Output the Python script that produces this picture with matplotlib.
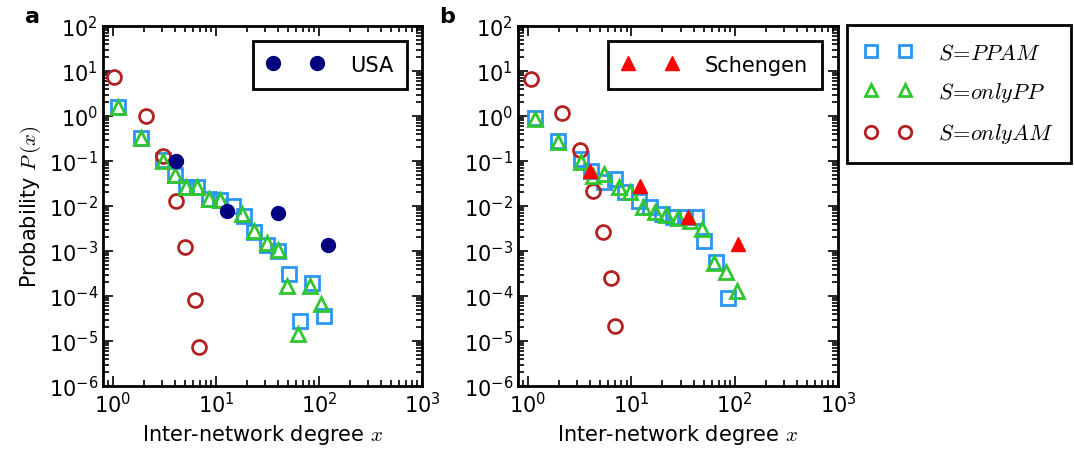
import matplotlib.pyplot as plt
from matplotlib.lines import Line2D

plt.rcParams['mathtext.fontset'] = 'cm'
plt.rcParams['font.family'] = ['DejaVu Sans']

# panel a (USA)
a_ppam_x = [1.13, 1.88, 3.08, 4.0, 5.07, 6.6, 8.55, 10.9, 14.6, 18.7, 23.4, 31, 39.6, 51, 66, 86, 112]
a_ppam_y = [1.56, 0.32, 0.105, 0.050, 0.026, 0.027, 0.0143, 0.0139, 0.0102, 0.0059, 0.0027,
            0.00138, 0.00102, 3.1e-4, 2.8e-5, 1.95e-4, 3.6e-5]
a_pp_x = [1.13, 1.88, 3.08, 4.0, 5.07, 6.6, 8.55, 10.9, 17.7, 23.4, 31, 39.6, 48.6, 63, 81, 104]
a_pp_y = [1.56, 0.32, 0.10, 0.050, 0.026, 0.027, 0.0143, 0.0139, 0.0066, 0.0028, 0.0015,
          0.00105, 1.7e-4, 1.4e-5, 1.7e-4, 6.6e-5]
a_am_x = [1.02, 2.08, 3.08, 4.12, 5.0, 6.2, 6.8]
a_am_y = [7.2, 1.0, 0.127, 0.013, 1.2e-3, 8.1e-5, 7.5e-6]
usa_x = [4.06, 12.8, 39.6, 123]
usa_y = [0.102, 0.0079, 0.007, 0.00138]

# panel b (Schengen)
b_ppam_x = [1.18, 1.96, 3.23, 4.1, 5.4, 7.0, 8.75, 11.8, 15.2, 19.7, 25.5, 33, 42.6, 51, 66, 86]
b_ppam_y = [0.89, 0.28, 0.11, 0.061, 0.034, 0.040, 0.020, 0.013, 0.0094, 0.0066, 0.0056,
            0.0056, 0.0056, 0.0017, 5.6e-4, 8.9e-5]
b_pp_x = [1.18, 1.96, 3.23, 4.25, 5.4, 7.55, 9.8, 12.9, 17, 21.8, 28.5, 36.9, 48, 63, 82, 105]
b_pp_y = [0.87, 0.27, 0.093, 0.047, 0.051, 0.026, 0.020, 0.0094, 0.0073, 0.0062, 0.0054,
          0.0047, 0.0031, 5.4e-4, 3.4e-4, 1.3e-4]
b_am_x = [1.07, 2.15, 3.18, 4.25, 5.3, 6.3, 6.9]
b_am_y = [6.6, 1.15, 0.178, 0.022, 0.0026, 2.5e-4, 2.2e-5]
sch_x = [4.0, 12, 35.6, 108]
sch_y = [0.061, 0.028, 0.0056, 0.00144]

c_blue = '#2b95f5'
c_green = '#2fc72f'
c_red = '#b22222'

fs = 15

fig = plt.figure(figsize=(10.74, 4.56), dpi=100)
ax1 = fig.add_axes([103 / 1074, 69 / 456, 319 / 1074, 360 / 456])
ax2 = fig.add_axes([518 / 1074, 69 / 456, 320 / 1074, 360 / 456])


def draw(ax, ppx, ppy, ppx2, ppy2, amx, amy):
    ax.plot(ppx, ppy, 's', ms=10, mfc='none', mec=c_blue, mew=2, zorder=3)
    ax.plot(ppx2, ppy2, '^', ms=10, mfc='none', mec=c_green, mew=2, zorder=4)
    ax.plot(amx, amy, 'o', ms=10, mfc='none', mec=c_red, mew=2, zorder=3)


draw(ax1, a_ppam_x, a_ppam_y, a_pp_x, a_pp_y, a_am_x, a_am_y)
h1, = ax1.plot(usa_x, usa_y, 'o', ms=10, color='#000080', mec='#000080', zorder=5)
draw(ax2, b_ppam_x, b_ppam_y, b_pp_x, b_pp_y, b_am_x, b_am_y)
h2, = ax2.plot(sch_x, sch_y, '^', ms=10, color='red', mec='red', zorder=5)

for ax in (ax1, ax2):
    ax.set_xscale('log')
    ax.set_yscale('log')
    ax.set_xlim(0.8, 1000)
    ax.set_ylim(1e-6, 1e2)
    ax.tick_params(which='both', direction='in', top=True, right=True, labelsize=fs, width=1.2)
    ax.tick_params(which='major', length=7)
    ax.tick_params(which='minor', length=4)
    for s in ax.spines.values():
        s.set_linewidth(2)
    ax.set_xlabel('Inter-network degree $x$', fontsize=fs)

ax1.set_ylabel('Probability $P\\,(x)$', fontsize=fs)

leg_kw = dict(numpoints=2, loc='upper right', fontsize=15, fancybox=False, edgecolor='black',
              framealpha=1, borderpad=0.66, handlelength=2.7, handletextpad=1.29, borderaxespad=0)
leg1 = ax1.legend([h1], ['USA'], bbox_to_anchor=(304 / 319, 1 - 15 / 360), **leg_kw)
leg1.get_frame().set_linewidth(2)
leg2 = ax2.legend([h2], ['Schengen'], bbox_to_anchor=(304 / 320, 1 - 15 / 360), **leg_kw)
leg2.get_frame().set_linewidth(2)

handles = [
    Line2D([], [], ls='none', marker='s', ms=9, mfc='none', mec=c_blue, mew=2),
    Line2D([], [], ls='none', marker='^', ms=9, mfc='none', mec=c_green, mew=2),
    Line2D([], [], ls='none', marker='o', ms=9, mfc='none', mec=c_red, mew=2),
]
labels = ['$S\\!=\\!PPAM$', '$S\\!=\\!onlyPP$', '$S\\!=\\!onlyAM$']
leg3 = fig.legend(handles, labels, numpoints=2, loc='upper left',
                  bbox_to_anchor=(847 / 1074, 1 - 26 / 456), borderaxespad=0,
                  fontsize=16, fancybox=False, edgecolor='black', framealpha=1, borderpad=0.8,
                  labelspacing=0.78, handlelength=2.1, handletextpad=1.19)
leg3.get_frame().set_linewidth(2)

fig.text(32 / 1074, 1 - 17 / 456, 'a', fontsize=16, fontweight='bold', va='center', ha='center')
fig.text(447 / 1074, 1 - 17 / 456, 'b', fontsize=16, fontweight='bold', va='center', ha='center')

fig.savefig('out.png', dpi=100)
